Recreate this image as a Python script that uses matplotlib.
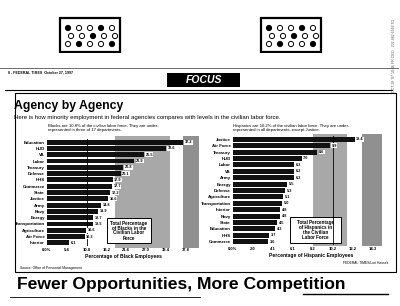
import matplotlib
matplotlib.use("Agg")
import matplotlib.pyplot as plt
from matplotlib.patches import Rectangle, Circle

plt.rcParams['font.family'] = ['Liberation Sans', 'DejaVu Sans']
plt.rcParams['hatch.color'] = '#444444'
plt.rcParams['hatch.linewidth'] = 0.5

# ---- data ----
black_agencies = ["Education", "HUD", "VA", "Labor", "Treasury", "Defense", "HHS",
                  "Commerce", "State", "Justice", "Army", "Navy", "Energy",
                  "Transportation", "Agriculture", "Air Force", "Interior"]
black_values = [37.2, 32.6, 26.5, 23.9, 20.8, 20.1, 17.9, 17.7, 17.2, 16.6,
                14.8, 13.9, 12.7, 12.5, 10.6, 10.3, 6.1]
black_clf = 10.8
black_ticks = [0, 5.4, 10.8, 16.2, 21.6, 27.0, 32.4, 37.8]
black_ticklabels = ["0.0%", "5.4", "10.8", "16.2", "21.6", "27.0", "32.4", "37.8"]

hisp_agencies = ["Justice", "Air Force", "Treasury", "HUD", "Labor", "VA", "Army",
                 "Energy", "Defense", "Agriculture", "Transportation", "Interior",
                 "Navy", "State", "Education", "HHS", "Commerce"]
hisp_values = [12.4, 9.9, 8.6, 7.0, 6.2, 6.2, 6.2, 5.5, 5.3, 5.1, 5.0, 4.8,
               4.8, 4.5, 4.3, 3.7, 3.6]
hisp_clf = 10.2
hisp_ticks = [0, 2.04, 4.08, 6.12, 8.16, 10.2, 12.24, 14.28]
hisp_ticklabels = ["0.0%", "2.0", "4.1", "6.1", "8.2", "10.2", "12.2", "14.3"]

W, H = 400, 306
fig = plt.figure(figsize=(4, 3.06), dpi=100)
fig.patch.set_facecolor("white")

bg = fig.add_axes([0, 0, 1, 1])
bg.set_xlim(0, W)
bg.set_ylim(H, 0)
bg.axis("off")

def px_axes(x0, y0, x1, y1):
    return fig.add_axes([x0 / W, 1 - y1 / H, (x1 - x0) / W, (y1 - y0) / H])

# ---- top decorations: icon boxes ----
for bx in (60, 261):
    bg.add_patch(Rectangle((bx, 18), 60, 34, fill=False, lw=1.6, ec="black"))
    for r, yy in enumerate((28, 36, 44)):
        for c in range(5):
            cx = bx + 8 + c * 11 + (r % 2) * 3
            bg.add_patch(Circle((cx, yy), 2.6, fill=(c + r) % 3 == 0,
                                fc="black", ec="black", lw=0.7))
bg.add_patch(Rectangle((0, 53), W, 14, fc="white", ec="none", zorder=3))

# ---- newspaper header ----
bg.plot([0, 398], [67.5, 67.5], color="#555", lw=0.6, zorder=4)
bg.text(8, 72, "8 - FEDERAL TIMES  October 27, 1997", fontsize=2.6,
        fontweight="bold", va="center", ha="left", zorder=4)
bg.add_patch(Rectangle((167, 73), 73, 13.5, fc="black", ec="none", zorder=4))
bg.text(203.5, 80, "FOCUS", color="white", fontsize=7.5, fontweight="bold",
        fontstyle="italic", ha="center", va="center", zorder=5)
bg.plot([5, 392], [89.5, 89.5], color="black", lw=0.8)
bg.text(394, 55, "OCT 29 '97 10:46 FR OEO   202 482 6592 TO", rotation=90,
        fontsize=2.6, color="#555", ha="center", va="center")

# ---- chart frame ----
bg.add_patch(Rectangle((15, 93), 381, 179, fill=False, ec="black", lw=0.8))
bg.text(14, 106, "Agency by Agency", fontsize=8.8, fontweight="bold",
        ha="left", va="center")
bg.text(14, 117, "Here is how minority employment in federal agencies compares "
        "with levels in the civilian labor force.", fontsize=4.3,
        ha="left", va="center")

# shaded (halftone) regions behind charts
for (x, y, w, h, fc) in [(115, 136, 55, 112, "#a8a8a8"), (183, 136, 16, 112, "#909090"),
                         (313, 134, 34, 112, "#a8a8a8"), (362, 134, 20, 112, "#909090")]:
    bg.add_patch(Rectangle((x, y), w, h, fc=fc, ec="none", hatch="....."))

bg.text(48, 127.5, "Blacks are 10.8% of the civilian labor force. They are under-\n"
        "represented in three of 17 departments.", fontsize=3.1,
        ha="left", va="center", linespacing=1.0)
bg.text(233, 127.5, "Hispanics are 10.2% of the civilian labor force. They are under-\n"
        "represented in all departments, except Justice.", fontsize=3.1,
        ha="left", va="center", linespacing=1.0)

def bar_panel(x0, x1, y0, y1, xmax, cats, vals, clf, ticks, ticklabels, xlabel):
    ax = px_axes(x0, y0, x1, y1)
    ax.patch.set_alpha(0)
    pos = list(range(len(cats)))
    ax.barh(pos, vals, height=0.78, color="#111111")
    for p, v in zip(pos, vals):
        ax.text(v + xmax * 0.01, p, f"{v:.1f}", fontsize=2.8, fontweight="bold",
                va="center", ha="left",
                bbox=dict(boxstyle="square,pad=0.1", fc="white", ec="none"))
    ax.axvline(clf, color="black", lw=0.6)
    ax.set_xlim(0, xmax)
    ax.set_ylim(len(cats) - 0.5, -0.5)
    ax.set_yticks(pos)
    ax.set_yticklabels(cats, fontsize=3.2, fontweight="bold")
    ax.set_xticks(ticks)
    ax.set_xticklabels(ticklabels, fontsize=3.0, fontweight="bold")
    ax.tick_params(length=0, pad=1.5)
    for s in ax.spines.values():
        s.set_visible(False)
    ax.set_xlabel(xlabel, fontsize=3.6, fontweight="bold", labelpad=1.5)
    return ax

bar_panel(47, 200, 139, 246, 41.8, black_agencies, black_values, black_clf,
          black_ticks, black_ticklabels, "Percentage of Black Employees")
bar_panel(233, 390, 136, 245, 16.0, hisp_agencies, hisp_values, hisp_clf,
          hisp_ticks, hisp_ticklabels, "Percentage of Hispanic Employees")

# callout boxes
bg.add_patch(Rectangle((107, 218), 44, 25, fc="white", ec="black", lw=0.7, zorder=6))
bg.text(129, 230.5, "Total Percentage\nof Blacks in the\nCivilian Labor\nForce",
        fontsize=3.3, fontweight="bold", ha="center", va="center",
        linespacing=1.0, zorder=7)
bg.add_patch(Rectangle((290, 217), 51, 26, fc="white", ec="black", lw=0.7, zorder=6))
bg.text(315.5, 230, "Total Percentage\nof Hispanics in\nthe Civilian\nLabor Force",
        fontsize=3.3, fontweight="bold", ha="center", va="center",
        linespacing=1.0, zorder=7)

bg.text(20, 268, "Source: Office of Personnel Management", fontsize=2.4,
        ha="left", va="center")
bg.text(388, 263, "FEDERAL TIMES/Lori Hasselt", fontsize=2.4,
        ha="right", va="center")

# ---- headline ----
bg.text(17, 284, "Fewer Opportunities, More Competition", fontsize=12.6,
        fontweight="bold", ha="left", va="center")
bg.plot([10, 200], [297, 297], color="black", lw=0.6)
bg.plot([303, 388], [293.5, 293.5], color="black", lw=1.0)

fig.savefig("out.png", dpi=100, facecolor="white")
